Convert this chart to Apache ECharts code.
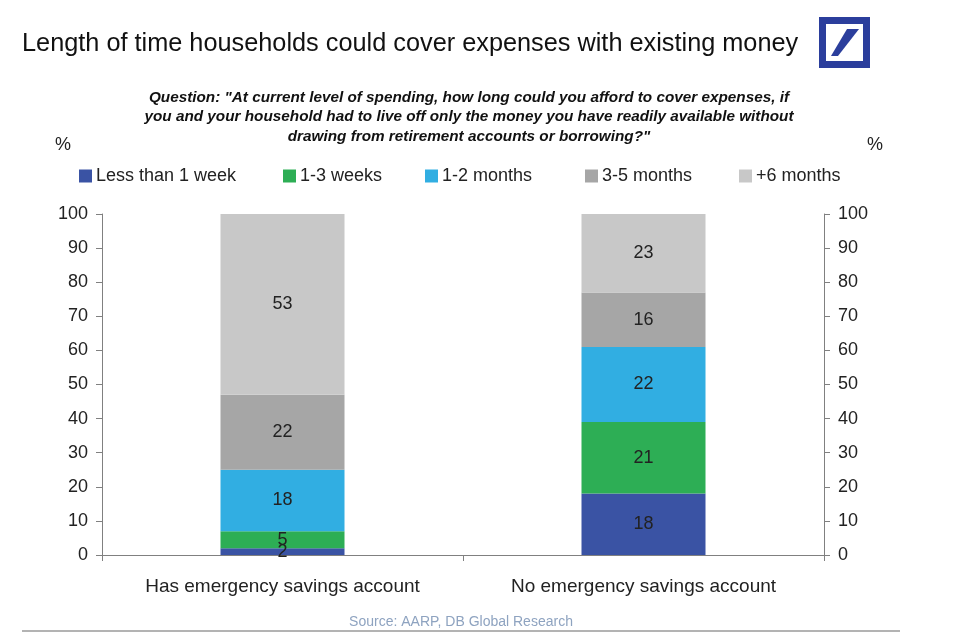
<!DOCTYPE html>
<html><head><meta charset="utf-8">
<script src="https://cdn.jsdelivr.net/npm/echarts@6/dist/echarts.min.js"></script>
<style>html,body{margin:0;padding:0;background:#fff}#c{width:960px;height:634px}</style>
</head><body><div id="c"></div>
<script>
const categories = ['Has emergency savings account', 'No emergency savings account'];
const seriesNames = ['Less than 1 week', '1-3 weeks', '1-2 months', '3-5 months', '+6 months'];
const lessThan1Week = [2, 18];
const weeks1to3 = [5, 21];
const months1to2 = [18, 22];
const months3to5 = [22, 16];
const months6plus = [53, 23];
const yTicks = [0, 100, 10];
const colors = ['#3A53A4', '#2DAE55', '#31AEE2', '#A6A6A6', '#C8C8C8'];
const seriesData = [lessThan1Week, weeks1to3, months1to2, months3to5, months6plus];
const legendLeft = [79, 283, 425, 585, 739];

const FONT = '"Liberation Sans", Arial, sans-serif';
const chart = echarts.init(document.getElementById('c'), null, {renderer: 'canvas'});
const yAxisBase = (pos) => ({
  type: 'value', position: pos, min: yTicks[0], max: yTicks[1], interval: yTicks[2],
  axisLine: {show: true, lineStyle: {color: '#808080', width: 1}},
  axisTick: {show: true, length: 6, lineStyle: {color: '#808080'}},
  splitLine: {show: false},
  axisLabel: {color: '#222', fontSize: 18, fontFamily: FONT, margin: 14}
});
chart.setOption({
  animation: false,
  backgroundColor: '#fff',
  title: [
    {text: 'Length of time households could cover expenses with existing money', left: 17, top: 27,
     textStyle: {fontFamily: FONT, fontSize: 25.3, fontWeight: 'normal', color: '#111'}},
    {text: 'Question: "At current level of spending, how long could you afford to cover expenses, if\nyou and your household had to live off only the money you have readily available without\ndrawing from retirement accounts or borrowing?"',
     left: 464, top: 83, textAlign: 'center',
     textStyle: {fontFamily: '"Liberation Sans Narrow", "Arial Narrow", sans-serif', fontSize: 15.3, fontWeight: 'bold', fontStyle: 'italic', color: '#111', lineHeight: 19.5}},
    {text: '%', left: 50, top: 131, textStyle: {fontFamily: FONT, fontSize: 18, fontWeight: 'normal', color: '#222'}},
    {text: '%', left: 862, top: 131, textStyle: {fontFamily: FONT, fontSize: 18, fontWeight: 'normal', color: '#222'}},
    {text: 'Source: AARP, DB Global Research', left: 456, top: 610, textAlign: 'center',
     textStyle: {fontFamily: FONT, fontSize: 14, fontWeight: 'normal', color: '#8EA3C0'}}
  ],
  legend: seriesNames.map((n, i) => ({
    data: [n], left: legendLeft[i], top: 167, padding: 0, itemWidth: 13, itemHeight: 13, itemGap: 0,
    icon: 'rect', textStyle: {fontFamily: FONT, fontSize: 18, color: '#222', padding: [0, 0, 0, -1]}
  })),
  grid: {left: 102, right: 136, top: 214, bottom: 79, containLabel: false},
  xAxis: {
    type: 'category', data: categories,
    axisLine: {show: true, lineStyle: {color: '#808080', width: 1}},
    axisTick: {show: true, length: 6, alignWithLabel: false, lineStyle: {color: '#808080'}},
    axisLabel: {color: '#222', fontSize: 19, fontFamily: FONT, margin: 22}
  },
  yAxis: [yAxisBase('left'), yAxisBase('right')],
  graphic: [
    {type: 'rect', shape: {x: 822.5, y: 20.5, width: 44, height: 44}, style: {fill: 'none', stroke: '#2B3E9C', lineWidth: 7}},
    {type: 'polygon', shape: {points: [[847, 29], [859, 29], [838, 56], [831, 56]]}, style: {fill: '#2B3E9C'}},
    {type: 'line', shape: {x1: 22, y1: 631, x2: 900, y2: 631}, style: {stroke: '#9A9A9A', lineWidth: 1.5}}
  ],
  series: seriesNames.map((n, i) => ({
    name: n, type: 'bar', stack: 'total', yAxisIndex: 0, barWidth: 124,
    data: seriesData[i], itemStyle: {color: colors[i]},
    label: {show: true, position: 'inside', color: '#222', fontSize: 18, fontFamily: FONT}
  }))
});
</script></body></html>
